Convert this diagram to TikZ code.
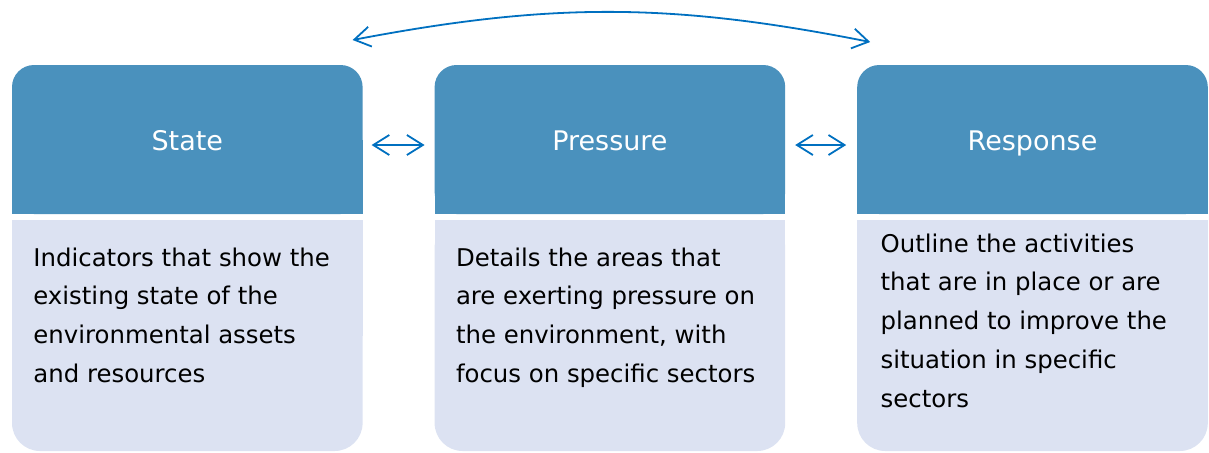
\documentclass[tikz,border=0pt]{standalone}
\usepackage{fontspec}
\setmainfont{DejaVu Sans}
\usetikzlibrary{arrows.meta, positioning, backgrounds}
\definecolor{hdrblue}{HTML}{4A91BD}
\definecolor{bodyblue}{HTML}{DCE2F2}
\definecolor{linkblue}{HTML}{0070C0}

\begin{document}
\begin{tikzpicture}[
    node distance=36pt,
    header/.style={rectangle, minimum width=175.3pt, minimum height=74.5pt, inner sep=0pt, outer sep=0pt, text height=10.5pt, text depth=0pt, text=white, font=\fontsize{13.5}{16}\selectfont},
    panel/.style={rectangle, minimum width=175.3pt, minimum height=115.5pt, inner sep=0pt, outer sep=0pt},
    blurb/.style={anchor=base west, inner sep=0pt, align=left, text=black, font=\fontsize{12.2}{19.4}\selectfont},
    link/.style={draw=linkblue, line width=0.9pt, {Straight Barb[length=8pt,width=10pt]}-{Straight Barb[length=8pt,width=10pt]}}
  ]
  \useasboundingbox (0,0) rectangle (604.5pt,-226pt);

  % Headers
  \node (sthead) [header, anchor=north west] at (6pt,-32.5pt) {State};
  \node (prhead) [header, right=36pt of sthead] {Pressure};
  \node (rehead) [header, right=36pt of prhead] {Response};

  % Panels under the headers
  \node (stbody) [panel, below=3pt of sthead] {};
  \node (prbody) [panel, below=3pt of prhead] {};
  \node (rebody) [panel, below=3pt of rehead] {};

  % Panel texts (base = last line)
  \node (sttxt) [blurb] at ([xshift=10.5pt, yshift=-81.2pt]stbody.north west) {Indicators that show the\\existing state of the\\environmental assets\\and resources};
  \node (prtxt) [blurb] at ([xshift=10.5pt, yshift=-81.2pt]prbody.north west) {Details the areas that\\are exerting pressure on\\the environment, with\\focus on specific sectors};
  \node (retxt) [blurb] at ([xshift=11.5pt, yshift=-93.6pt]rebody.north west) {Outline the activities\\that are in place or are\\planned to improve the\\situation in specific\\sectors};

  % Fills: rounded on the outer side only
  \begin{scope}[on background layer]
    \fill[hdrblue, rounded corners=11pt] (sthead.south west) rectangle (sthead.north east);
    \fill[hdrblue] (sthead.south west) rectangle (sthead.east);
    \fill[hdrblue, rounded corners=11pt] (prhead.south west) rectangle (prhead.north east);
    \fill[hdrblue] (prhead.south west) rectangle (prhead.east);
    \fill[hdrblue, rounded corners=11pt] (rehead.south west) rectangle (rehead.north east);
    \fill[hdrblue] (rehead.south west) rectangle (rehead.east);
    \fill[bodyblue, rounded corners=14pt] (stbody.south west) rectangle (stbody.north east);
    \fill[bodyblue] (stbody.west) rectangle (stbody.north east);
    \fill[bodyblue, rounded corners=14pt] (prbody.south west) rectangle (prbody.north east);
    \fill[bodyblue] (prbody.west) rectangle (prbody.north east);
    \fill[bodyblue, rounded corners=14pt] (rebody.south west) rectangle (rebody.north east);
    \fill[bodyblue] (rebody.west) rectangle (rebody.north east);
  \end{scope}

  % Arrows between headers
  \draw[link] ([xshift=4.5pt, yshift=-2.75pt]sthead.east) -- ([xshift=-5pt, yshift=-2.75pt]prhead.west);
  \draw[link] ([xshift=5pt, yshift=-2.75pt]prhead.east) -- ([xshift=-5.5pt, yshift=-2.75pt]rehead.west);
  \draw[link] ([xshift=-5pt, yshift=12.5pt]sthead.north east) to[bend left=11] ([xshift=6.5pt, yshift=11.5pt]rehead.north west);
\end{tikzpicture}
\end{document}
